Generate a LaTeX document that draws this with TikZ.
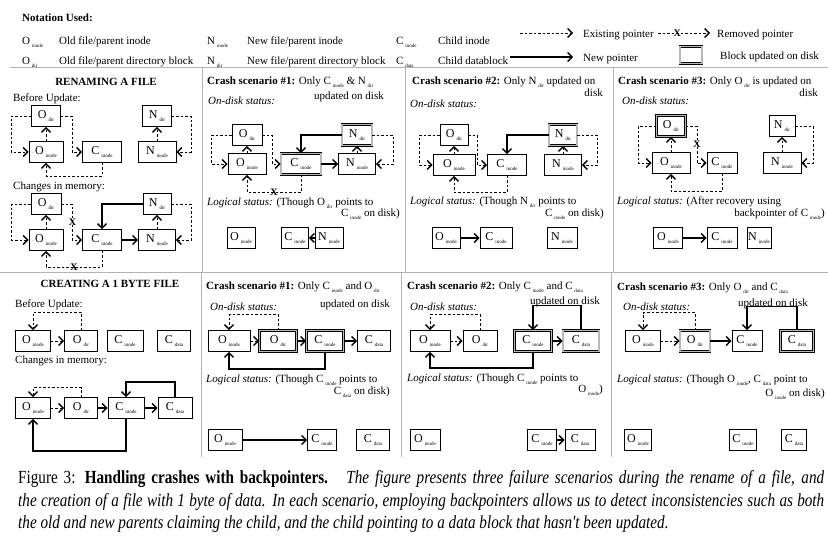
\documentclass[tikz,border=0pt]{standalone}
\usepackage{fontspec}
\setmainfont{Liberation Serif}
\newfontfamily\capfont[FakeStretch=0.82]{Liberation Serif}
\usetikzlibrary{arrows.meta}

\newcommand{\blk}[2]{#1\,\raisebox{-3pt}{\fontsize{5}{5}\selectfont #2}}

\begin{document}
\begin{tikzpicture}
[x=1pt, y=-1pt,
 >={Straight Barb[length=4.5pt,width=9pt,line width=1.4pt 0]},
 blockBox/.style={draw, line width=0.8pt, minimum height=21, inner sep=0pt, font=\fontsize{12}{13}\selectfont},%
 updatedBox/.style={blockBox, double=gray!55, double distance=1.3pt},%
 oldPointer/.style={->, line width=0.6pt, dash pattern=on 2.5pt off 2pt},%
 newPointer/.style={->, line width=1.3pt},%
 removedMark/.style={font=\bfseries\fontsize{10}{10}\selectfont, inner sep=0pt},%
 textDecorate/.style={anchor=base west, inner sep=0pt, font=\fontsize{11}{13}\selectfont},%
 textRight/.style={textDecorate, anchor=base east},%
 panelLine/.style={draw=gray!60, line width=0.9pt}]
\useasboundingbox (0,0) rectangle (828,536);

%% notation
\node[textDecorate, font=\bfseries\fontsize{11}{13}\selectfont] (notation) at (22,21) {Notation Used:};
\node[textDecorate] (keyOi) at (22,44) {\blk{O}{inode}};
\node[textDecorate] (keyOiTxt) at (59,44) {Old file/parent inode};
\node[textDecorate] (keyNi) at (207,44) {\blk{N}{inode}};
\node[textDecorate] (keyNiTxt) at (247,44) {New file/parent inode};
\node[textDecorate] (keyCi) at (396,44) {\blk{C}{inode}};
\node[textDecorate] (keyCiTxt) at (438,44) {Child inode};
\node[textDecorate] (keyOd) at (22,64) {\blk{O}{dir}};
\node[textDecorate] (keyOdTxt) at (59,64) {Old file/parent directory block};
\node[textDecorate] (keyNd) at (207,64) {\blk{N}{dir}};
\node[textDecorate] (keyNdTxt) at (247,64) {New file/parent directory block};
\node[textDecorate] (keyCd) at (396,64) {\blk{C}{data}};
\node[textDecorate] (keyCdTxt) at (438,64) {Child datablock};

%% legend
\coordinate (legOldA) at (520,33);
\coordinate (legOldB) at (573,33);
\coordinate (legRemA) at (658,33);
\coordinate (legRemB) at (710,33);
\coordinate (legNewA) at (510,57);
\coordinate (legNewB) at (573,57);
\node[updatedBox, minimum width=22, minimum height=17] (legBox) at (691,55) {};
\node[textDecorate] (legOld) at (583,37) {Existing pointer};
\node[textDecorate] (legRem) at (717,37) {Removed pointer};
\node[textDecorate] (legNew) at (583,61) {New pointer};
\node[textDecorate] (legUpd) at (720,59) {Block updated on disk};
\draw[oldPointer] (legOldA) -- (legOldB);
\draw[oldPointer] (legRemA) -- node[removedMark, pos=0.37] {X} (legRemB);
\draw[newPointer] (legNewA) -- (legNewB);

%% panel frames
\draw[panelLine] (10,67) -- (828,67);
\draw[panelLine] (0,272) -- (828,272);
\foreach \x in {202,405,613} { \draw[panelLine] (\x,67) -- (\x,272); }
\foreach \x in {201,401,611} { \draw[panelLine] (\x,272) -- (\x,457); }

%% panel texts, renaming
\node[textDecorate, anchor=base, font=\bfseries\fontsize{11}{13}\selectfont] (renTitle) at (106,85) {RENAMING A FILE};
\node[textDecorate] (renBefore) at (13,101) {Before Update:};
\node[textDecorate] (renChange) at (13,189) {Changes in memory:};
\node[textDecorate] (renOneHead) at (207,84) {\textbf{Crash scenario \#1:} Only \blk{C}{inode} \& \blk{N}{dir}};
\node[textRight] (renOneTail) at (384,99) {updated on disk};
\node[textDecorate] (renOneDisk) at (208,104) {\textit{On-disk status:}};
\node[textDecorate] (renOneLog) at (207,205) {\textit{Logical status:} (Though \blk{O}{dir} points to};
\node[textRight] (renOneLogB) at (400,216) {\blk{C}{inode} on disk)};
\node[textDecorate] (renTwoHead) at (412,84) {\textbf{Crash scenario \#2:} Only \blk{N}{dir} updated on};
\node[textRight] (renTwoTail) at (603,96) {disk};
\node[textDecorate] (renTwoDisk) at (410,107) {\textit{On-disk status:}};
\node[textDecorate] (renTwoLog) at (410,204) {\textit{Logical status:} (Though \blk{N}{dir} points to};
\node[textRight] (renTwoLogB) at (604,216) {\blk{C}{inode} on disk)};
\node[textDecorate] (renThrHead) at (618,84) {\textbf{Crash scenario \#3:} Only \blk{O}{dir} is updated on};
\node[textRight] (renThrTail) at (818,96) {disk};
\node[textDecorate] (renThrDisk) at (622,104) {\textit{On-disk status:}};
\node[textDecorate] (renThrLog) at (617,204) {\textit{Logical status:} (After recovery using};
\node[textRight] (renThrLogB) at (825,216) {backpointer of \blk{C}{inode})};

%% panel texts, creating
\node[textDecorate, anchor=base, font=\bfseries\fontsize{11}{13}\selectfont] (creTitle) at (110,287) {CREATING A 1 BYTE FILE};
\node[textDecorate] (creBefore) at (15,307) {Before Update:};
\node[textDecorate] (creChange) at (15,363) {Changes in memory:};
\node[textDecorate] (creOneHead) at (206,289) {\textbf{Crash scenario \#1:} Only \blk{C}{inode} and \blk{O}{dir}};
\node[textRight] (creOneTail) at (390,307) {updated on disk};
\node[textDecorate] (creOneDisk) at (210,310) {\textit{On-disk status:}};
\node[textDecorate] (creOneLog) at (206,382) {\textit{Logical status:} (Though \blk{C}{inode} points to};
\node[textRight] (creOneLogB) at (390,394) {\blk{C}{data} on disk)};
\node[textDecorate] (creTwoHead) at (407,289) {\textbf{Crash scenario \#2:} Only \blk{C}{inode} and \blk{C}{data}};
\node[textRight] (creTwoTail) at (600,304) {updated on disk};
\node[textDecorate] (creTwoDisk) at (410,310) {\textit{On-disk status:}};
\node[textDecorate] (creTwoLog) at (407,381) {\textit{Logical status:} (Though \blk{C}{inode} points to};
\node[textRight] (creTwoLogB) at (603,392) {\blk{O}{inode})};
\node[textDecorate] (creThrHead) at (617,290) {\textbf{Crash scenario \#3:} Only \blk{O}{dir} and \blk{C}{data}};
\node[textRight] (creThrTail) at (808,306) {updated on disk};
\node[textDecorate] (creThrDisk) at (623,310) {\textit{On-disk status:}};
\node[textDecorate] (creThrLog) at (617,382) {\textit{Logical status:} (Though \blk{O}{inode}, \blk{C}{data} point to};
\node[textRight] (creThrLogB) at (825,396) {\blk{O}{inode} on disk)};

%% blocks
\foreach \nodename/\ltr/\sub/\x/\y/\w in {
  aOd/O/dir/46/116/29, aOi/O/inode/46/152/34, aCi/C/inode/102/152/39, aNd/N/dir/157/116/29, aNi/N/inode/157/152/38,
  bOd/O/dir/46/204/30, bOi/O/inode/46/240/34, bCi/C/inode/102/240/39, bNd/N/dir/157/204/28, bNi/N/inode/157/240/37,
  cOd/O/dir/247/135/30, cOi/O/inode/247/164/38, cNi/N/inode/357/164/37,
  dOi/O/inode/241/238/28, dCi/C/inode/295/238/27, dNi/N/inode/329/238/28,
  eOd/O/dir/454/135/28, eOi/O/inode/454/165/42, eCi/C/inode/507/165/39, eNi/N/inode/563/165/37,
  fOi/O/inode/446/238/28, fCi/C/inode/496/238/32, fNi/N/inode/562/238/30,
  gOi/O/inode/671/163/38, gCi/C/inode/722/163/30, gNd/N/dir/782/126/26, gNi/N/inode/782/163/38,
  hOi/O/inode/668/238/29, hCi/C/inode/722/238/30, hNi/N/inode/759/238/24,
  iOi/O/inode/33/341/35, iOd/O/dir/81/341/33, iCi/C/inode/125/341/36, iCd/C/data/174/341/33,
  jOi/O/inode/33/408/35, jOd/O/dir/81/408/33, jCi/C/inode/126/408/36, jCd/C/data/175/408/34,
  kOi/O/inode/229/341/42, kCd/C/data/374/341/33,
  lOi/O/inode/225/440/34, lCi/C/inode/322/440/29, lCd/C/data/373/440/33,
  mOi/O/inode/430/341/40, mOd/O/dir/480/341/34,
  nOi/O/inode/425/440/30, nCi/C/inode/542/440/29, nCd/C/data/580/440/30,
  pOi/O/inode/643/341/35, pCi/C/inode/747/341/30,
  qOi/O/inode/638/440/27, qCi/C/inode/743/440/27, qCd/C/data/794/440/25}
{
  \node[blockBox, minimum width=\w] (\nodename) at (\x,\y) {\blk{\ltr}{\sub}};
}
%% blocks updated on disk
\foreach \nodename/\ltr/\sub/\x/\y/\w in {
  cCi/C/inode/301/164/40, cNd/N/dir/357/135/30, eNd/N/dir/563/135/28, gOd/O/dir/671/126/29,
  kOd/O/dir/278/341/37, kCi/C/inode/325/341/37, mCi/C/inode/533/341/37, mCd/C/data/581/341/36,
  pOd/O/dir/695/341/30, pCd/C/data/797/341/33}
{
  \node[updatedBox, minimum width=\w] (\nodename) at (\x,\y) {\blk{\ltr}{\sub}};
}

%% straight pointers
\path
\foreach \startnode/\endnode in {aOi/aOd, aNi/aNd, bOi/bOd, bNi/bNd, cOi/cOd, cNi/cNd, eOi/eOd, eNi/eNd,
  gOi/gOd, gNi/gNd, iOi/iOd, jOi/jOd, kOi/kOd, mOi/mOd, pOi/pOd} {
  (\startnode) edge[oldPointer] (\endnode)
};
\path
\foreach \startnode/\endnode in {bCi/bNi, cCi/cNi, dNi/dCi, fOi/fCi, hOi/hCi, jOd/jCi, jCi/jCd,
  kOd/kCi, kCi/kCd, lOi/lCi, mCi/mCd, nCi/nCd, pOd/pCi} {
  (\startnode) edge[newPointer] (\endnode)
};

%% bent pointers, renaming
\draw[oldPointer] (aOd.west) -- ++(-20,0) |- (aOi.west);
\draw[oldPointer] (aOd.east) -- ++(11,0) |- (aCi.west);
\draw[oldPointer] (aCi.south) -- ++(0,13) -| (aOi.south);
\draw[oldPointer] (aNd.east) -- ++(19,0) |- (aNi.east);

\draw[oldPointer] (bOd.west) -- ++(-19,0) |- (bOi.west);
\draw[oldPointer] (bOd.east) -- ++(11,0) |- node[removedMark, pos=0.25] {X} (bCi.west);
\draw[oldPointer] (bCi.south) -- ++(0,16) -| node[removedMark, pos=0.25] {X} (bOi.south);
\draw[newPointer] (bNd.west) -| (bCi.north);
\draw[oldPointer] (bNd.east) -- ++(20,0) |- (bNi.east);

\draw[oldPointer] (cOd.west) -- ++(-20,0) |- (cOi.west);
\draw[oldPointer] (cOd.east) -- ++(10,0) |- (cCi.west);
\draw[oldPointer] (cCi.south) -- ++(0,17.5) -| node[removedMark, pos=0.25] {X} (cOi.south);
\draw[newPointer] (cNd.west) -| (cCi.north);
\draw[oldPointer] (cNd.east) -- ++(21,0) |- (cNi.east);

\draw[oldPointer] (eOd.west) -- ++(-20,0) |- (eOi.west);
\draw[oldPointer] (eOd.east) -- ++(9,0) |- (eCi.west);
\draw[oldPointer] (eCi.south) -- ++(0,16.5) -| (eOi.south);
\draw[newPointer] (eNd.west) -| (eCi.north);
\draw[oldPointer] (eNd.east) -- ++(20,0) |- (eNi.east);

\draw[oldPointer] (gOd.west) -- ++(-18,0) |- (gOi.west);
\draw[oldPointer] (gOd.east) -- ++(11,0) |- node[removedMark, pos=0.25] {X} (gCi.west);
\draw[oldPointer] (gCi.south) -- ++(0,17.5) -| (gOi.south);
\draw[oldPointer] (gNd.east) -- ++(18,0) |- (gNi.east);

%% bent pointers, creating
\draw[oldPointer] (iOd.north) -- ++(0,-18) -| (iOi.north);
\draw[oldPointer] (jOd.north) -- ++(0,-9.5) -| (jOi.north);
\draw[newPointer] (jCd.north) -- ++(0,-15) -| (jCi.north);
\draw[newPointer] (jCi.south) -- ++(0,32) -| (jOi.south);
\draw[oldPointer] (kOd.north) -- ++(0,-15.5) -| (kOi.north);
\draw[newPointer] (kCi.south) -- ++(0,17) -| (kOi.south);
\draw[oldPointer] (mOd.north) -- ++(0,-15.5) -| (mOi.north);
\draw[newPointer] (mCd.north) -- ++(0,-24.5) -| (mCi.north);
\draw[newPointer] (mCi.south) -- ++(0,16) -| (mOi.south);
\draw[oldPointer] (pOd.north) -- ++(0,-17.5) -| (pOi.north);
\draw[newPointer] (pCd.north) -- ++(0,-23.5) -| (pCi.north);

%% caption
\node[anchor=base west, inner sep=0pt, font=\capfont\fontsize{18.5}{21}\selectfont] (capA) at (18,483)
  {\makebox[806pt][s]{Figure 3: \textbf{Handling crashes with backpointers.}\quad\textit{The figure presents three failure scenarios during the rename of a file, and}}};
\node[anchor=base west, inner sep=0pt, font=\capfont\fontsize{18.5}{21}\selectfont] (capB) at (18,506)
  {\makebox[806pt][s]{\textit{the creation of a file with 1 byte of data. In each scenario, employing backpointers allows us to detect inconsistencies such as both}}};
\node[anchor=base west, inner sep=0pt, font=\capfont\fontsize{18.5}{21}\selectfont] (capC) at (18,528)
  {\textit{the old and new parents claiming the child, and the child pointing to a data block that hasn't been updated.}};
\end{tikzpicture}
\end{document}
